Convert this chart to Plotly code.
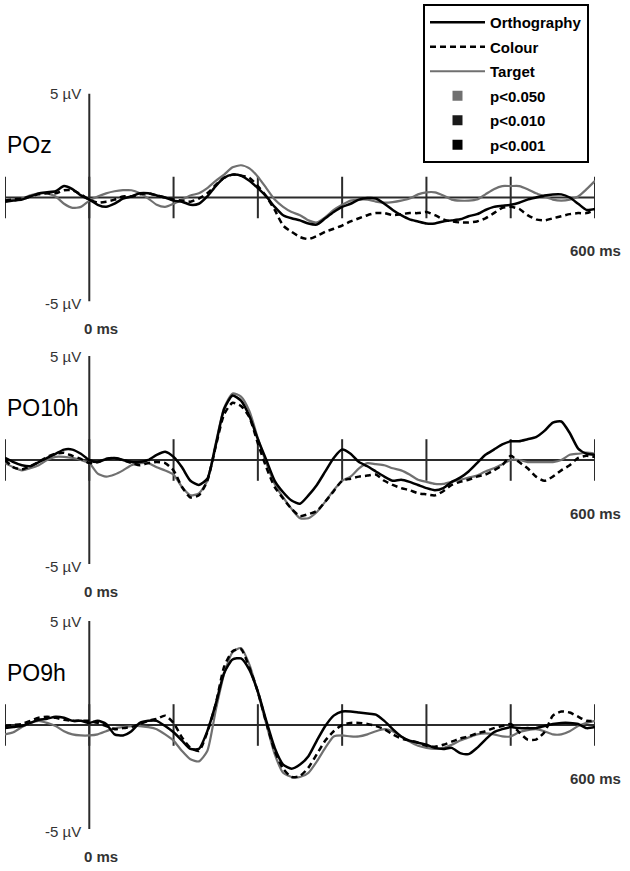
import plotly.graph_objects as go

# ERP waveforms, -100..600 ms in 10 ms steps, amplitude in microvolts
TIME_MS = list(range(-100, 610, 10))

CHANNELS = ["POz", "PO10h", "PO9h"]
CONDITIONS = ["Orthography", "Colour", "Target"]
P_LABELS = ["p<0.050", "p<0.010", "p<0.001"]
P_COLORS = ["#707070", "#1a1a1a", "#000000"]

POZ_ORTHOGRAPHY = [
    -0.2, -0.15, -0.1, 0.05, 0.2, 0.25, 0.3, 0.55, 0.4, 0.1,
    -0.1, -0.35, -0.45, -0.3, -0.05, 0.05, 0.2, 0.2, 0.1, 0.0,
    -0.15, -0.2, -0.35, -0.3, 0.05, 0.55, 0.95, 1.1, 1.05, 0.8,
    0.45, 0.05, -0.45, -0.85, -1.0, -1.1, -1.25, -1.3, -1.0, -0.7,
    -0.45, -0.3, -0.1, -0.03, -0.05, -0.3, -0.6, -0.85, -1.05, -1.15,
    -1.25, -1.25, -1.15, -1.1, -1.05, -0.9, -0.8, -0.6, -0.45, -0.4,
    -0.35, -0.25, -0.1, 0.0, 0.1, 0.15, 0.15, 0.0, -0.3, -0.6,
    -0.55,
]
POZ_COLOUR = [
    -0.15, -0.1, -0.05, 0.05, 0.15, 0.2, 0.2, 0.35, 0.35, 0.15,
    -0.1, -0.25, -0.2, -0.1, 0.05, 0.05, 0.15, 0.2, 0.1, 0.0,
    -0.1, -0.15, -0.2, -0.05, 0.2, 0.6, 0.95, 1.1, 1.05, 0.95,
    0.55, 0.05, -0.6, -1.35, -1.65, -1.9, -2.0, -1.85, -1.65, -1.5,
    -1.35, -1.15, -1.0, -0.85, -0.75, -0.75, -0.85, -0.8, -0.75, -0.75,
    -0.7, -0.85, -1.05, -1.15, -1.2, -1.2, -1.15, -1.0, -0.75, -0.5,
    -0.45, -0.55, -0.85, -1.05, -1.1, -1.0, -0.9, -0.8, -0.75, -0.75,
    -0.6,
]
POZ_TARGET = [
    -0.2, -0.1, -0.05, 0.1, 0.2, 0.2, 0.05, -0.3, -0.5, -0.45,
    -0.15, 0.05, 0.2, 0.3, 0.35, 0.35, 0.2, -0.05, -0.35, -0.45,
    -0.3, -0.1, 0.1, 0.2, 0.45, 0.8, 1.1, 1.45, 1.55, 1.4,
    1.0, 0.45, -0.1, -0.45, -0.7, -0.85, -1.1, -1.2, -0.95, -0.6,
    -0.35, -0.15, -0.1, -0.1, -0.2, -0.25, -0.22, -0.15, -0.05, 0.15,
    0.25, 0.25, 0.1, -0.1, -0.15, -0.15, -0.1, 0.15, 0.4, 0.55,
    0.55, 0.55, 0.4, 0.2, 0.05, -0.1, -0.15, -0.1, 0.05, 0.4,
    0.8,
]

PO10H_ORTHOGRAPHY = [
    0.1, -0.1, -0.25, -0.3, -0.1, 0.1, 0.3, 0.5, 0.5, 0.3,
    0.0, -0.1, 0.05, 0.1, 0.0, -0.1, -0.1, 0.0, 0.25, 0.4,
    0.15, -0.35, -1.0, -1.2, -0.9, 0.7, 2.45, 3.1, 2.85, 2.1,
    1.0, 0.0, -1.0, -1.55, -1.95, -2.1, -1.7, -1.2, -0.55, 0.1,
    0.5, 0.3, -0.1, -0.3, -0.55, -0.8, -1.0, -0.95, -1.05, -1.2,
    -1.35, -1.45, -1.35, -1.05, -0.85, -0.55, -0.15, 0.25, 0.5, 0.75,
    0.9, 0.9, 1.0, 1.1, 1.4, 1.8, 1.85, 1.3, 0.55, 0.3,
    0.25,
]
PO10H_COLOUR = [
    0.0, -0.35, -0.45, -0.3, -0.1, 0.15, 0.3, 0.35, 0.2, 0.05,
    -0.15, -0.1, 0.05, 0.1, 0.0, -0.15, -0.25, -0.15, -0.1, -0.15,
    -0.5, -1.3, -1.8, -1.7, -1.0, 0.65, 2.2, 2.75, 2.6, 2.05,
    0.8, -0.35, -1.3, -1.85, -2.35, -2.7, -2.6, -2.45, -2.0, -1.5,
    -1.0, -0.9, -0.8, -0.75, -0.7, -1.0, -1.2, -1.35, -1.45, -1.6,
    -1.65, -1.7, -1.5, -1.2, -1.05, -0.95, -0.8, -0.7, -0.5, -0.25,
    0.2, -0.1, -0.4, -0.8, -1.0, -0.8, -0.5, -0.25, 0.1, 0.2,
    0.15,
]
PO10H_TARGET = [
    -0.15, -0.35, -0.5, -0.4, -0.25, 0.0, 0.15, 0.15, 0.1, 0.0,
    -0.15, -0.65, -0.8, -0.7, -0.5, -0.25, -0.15, -0.15, -0.35, -0.5,
    -0.7, -1.3, -1.7, -1.6, -1.0, 0.8, 2.5, 3.2, 3.05, 2.35,
    1.05, -0.15, -1.15, -1.8, -2.35, -2.8, -2.8, -2.5, -2.0, -1.45,
    -1.0, -0.8, -0.4, -0.15, -0.2, -0.25, -0.4, -0.5, -0.7, -0.95,
    -1.05, -1.15, -1.15, -1.05, -0.95, -0.85, -0.75, -0.55, -0.4, -0.2,
    0.0, 0.0, -0.1, -0.1, -0.1, -0.1, 0.0, 0.25, 0.3, 0.35,
    0.3,
]

PO9H_ORTHOGRAPHY = [
    -0.15, -0.1, -0.05, 0.1, 0.25, 0.3, 0.4, 0.35, 0.2, 0.2,
    0.1, 0.2, 0.05, -0.45, -0.5, -0.3, 0.1, 0.2, 0.2, -0.05,
    -0.35, -0.75, -1.15, -1.15, -0.3, 1.0, 2.5, 3.15, 3.2, 2.65,
    1.6, 0.2, -1.1, -1.9, -2.1, -1.9, -1.5, -0.75, -0.05, 0.45,
    0.65, 0.65, 0.6, 0.55, 0.5, 0.2, -0.2, -0.55, -0.75, -0.85,
    -0.95, -1.1, -1.15, -1.1, -1.35, -1.4, -1.1, -0.7, -0.35, -0.2,
    -0.1, -0.15, -0.15, -0.15, -0.05, 0.05, 0.1, 0.1, 0.05, -0.15,
    -0.1,
]
PO9H_COLOUR = [
    -0.05, 0.0, 0.05, 0.2, 0.35, 0.4, 0.35, 0.25, 0.2, 0.2,
    0.2, 0.1, -0.05, -0.2, -0.15, -0.1, 0.05, 0.2, 0.3, 0.45,
    0.1, -0.6, -1.1, -1.25, -0.35, 1.0, 2.8, 3.55, 3.65, 2.75,
    1.6, 0.1, -1.25, -2.1, -2.5, -2.45, -2.05, -1.4, -0.75, -0.3,
    0.0, 0.1, 0.1, 0.05, -0.05, -0.2, -0.45, -0.65, -0.75, -0.85,
    -1.0, -1.05, -0.95, -0.8, -0.65, -0.55, -0.4, -0.3, -0.15, -0.05,
    0.05, -0.35, -0.7, -0.7, -0.35, 0.45, 0.65, 0.6, 0.4, 0.2,
    0.2,
]
PO9H_TARGET = [
    -0.45, -0.35, -0.1, 0.1, 0.2, 0.1, -0.05, -0.3, -0.45, -0.5,
    -0.5, -0.45, -0.3, -0.15, -0.1, -0.05, -0.05, -0.1, -0.2, -0.45,
    -0.75, -1.25, -1.65, -1.75, -1.25, 0.7, 2.45, 3.5, 3.7, 2.9,
    1.55, 0.05, -1.4, -2.3, -2.5, -2.5, -2.3, -1.75, -1.1, -0.55,
    -0.5, -0.55, -0.55, -0.45, -0.3, -0.2, -0.3, -0.55, -0.8, -1.0,
    -1.1, -1.15, -1.1, -0.95, -0.75, -0.6, -0.45, -0.4, -0.45, -0.55,
    -0.55, -0.35, -0.25, -0.2, -0.3, -0.45, -0.45, -0.3, -0.05, 0.1,
    0.2,
]

WAVES = {
    "POz": {"Orthography": POZ_ORTHOGRAPHY, "Colour": POZ_COLOUR, "Target": POZ_TARGET},
    "PO10h": {"Orthography": PO10H_ORTHOGRAPHY, "Colour": PO10H_COLOUR, "Target": PO10H_TARGET},
    "PO9h": {"Orthography": PO9H_ORTHOGRAPHY, "Colour": PO9H_COLOUR, "Target": PO9H_TARGET},
}

STYLE = {
    "Orthography": dict(color="#000000", width=2.5, dash="solid"),
    "Colour": dict(color="#000000", width=2.5, dash="6px,4px"),
    "Target": dict(color="#707070", width=2.2, dash="solid"),
}

FONT = "Arial, Liberation Sans, sans-serif"
AXIS_COLOR = "#2b2b2b"
H = 871
# pixel rows of the 0 µV baseline in each panel, and px per µV
BASELINES = [197.5, 460, 725]
PX_PER_UV = 20.8

fig = go.Figure()
shapes, annotations = [], []

for i, ch in enumerate(CHANNELS):
    n = "" if i == 0 else str(i + 1)
    xa, ya = f"x{n}", f"y{n}"
    # draw target first so the black curves sit on top
    for cond in ["Target", "Colour", "Orthography"]:
        st = STYLE[cond]
        fig.add_trace(go.Scatter(
            x=TIME_MS, y=WAVES[ch][cond],
            mode="lines", name=cond,
            line=dict(color=st["color"], width=st["width"], dash=st["dash"],
                      shape="spline", smoothing=0.6),
            xaxis=xa, yaxis=ya,
            showlegend=(i == 0), legendgroup=cond,
            legendrank=CONDITIONS.index(cond) + 1,
        ))

    top = BASELINES[i] - 5 * PX_PER_UV
    bot = BASELINES[i] + 5 * PX_PER_UV
    fig.update_layout({
        f"xaxis{n}": dict(domain=[0, 1], range=[-100, 600], visible=False,
                          anchor=ya, fixedrange=True),
        f"yaxis{n}": dict(domain=[1 - bot / H, 1 - top / H], range=[-5, 5],
                          visible=False, anchor=xa, fixedrange=True),
    })

    ln = dict(color=AXIS_COLOR, width=2)
    shapes.append(dict(type="line", xref=xa, yref=ya, x0=0, x1=0, y0=-5, y1=5,
                       line=ln, layer="below"))
    shapes.append(dict(type="line", xref=xa, yref=ya, x0=-100, x1=600, y0=0, y1=0,
                       line=ln, layer="below"))
    for t in range(-100, 700, 100):
        shapes.append(dict(type="line", xref=xa, yref=ya, x0=t, x1=t, y0=-1, y1=1,
                           line=ln, layer="below"))

    annotations += [
        dict(text=ch, x=-100, y=0, xref=xa, yref=ya, xanchor="left", yanchor="middle",
             yshift=52, showarrow=False, font=dict(family=FONT, size=23, color="#000")),
        dict(text="5 µV", x=0, y=5, xref=xa, yref=ya, xanchor="right", yanchor="middle",
             xshift=-6, showarrow=False, font=dict(family=FONT, size=15, color="#333")),
        dict(text="-5 µV", x=0, y=-5, xref=xa, yref=ya, xanchor="right", yanchor="middle",
             xshift=-6, yshift=-2, showarrow=False, font=dict(family=FONT, size=15, color="#333")),
        dict(text="0 ms", x=0, y=-5, xref=xa, yref=ya, xanchor="left", yanchor="middle",
             xshift=-7, yshift=-27, showarrow=False,
             font=dict(family=FONT, size=15, color="#333", weight="bold")),
        dict(text="600 ms", x=600, y=0, xref=xa, yref=ya, xanchor="center", yanchor="middle",
             yshift=-53, showarrow=False,
             font=dict(family=FONT, size=15, color="#333", weight="bold")),
    ]

# significance keys (legend only)
for k, (lab, col) in enumerate(zip(P_LABELS, P_COLORS)):
    fig.add_trace(go.Scatter(
        x=[None], y=[None], mode="markers", name=lab,
        marker=dict(symbol="square", size=10, color=col),
        legendgroup=lab, legendrank=4 + k, showlegend=True,
    ))

fig.update_layout(
    width=630, height=871,
    margin=dict(l=5, r=35, t=0, b=0),
    paper_bgcolor="white", plot_bgcolor="white",
    shapes=shapes, annotations=annotations,
    legend=dict(
        x=(423 - 5) / 590, y=1 - 4 / H, xanchor="left", yanchor="top",
        bgcolor="white", bordercolor="#000", borderwidth=2,
        font=dict(family=FONT, size=15, color="#000", weight="bold"),
        traceorder="grouped", tracegroupgap=2, itemwidth=55,
    ),
)

# the page's default body margin would push the figure 8px off the window
fig.write_html("out.html", config={"displayModeBar": False},
               post_script="document.body.style.margin='0';")
